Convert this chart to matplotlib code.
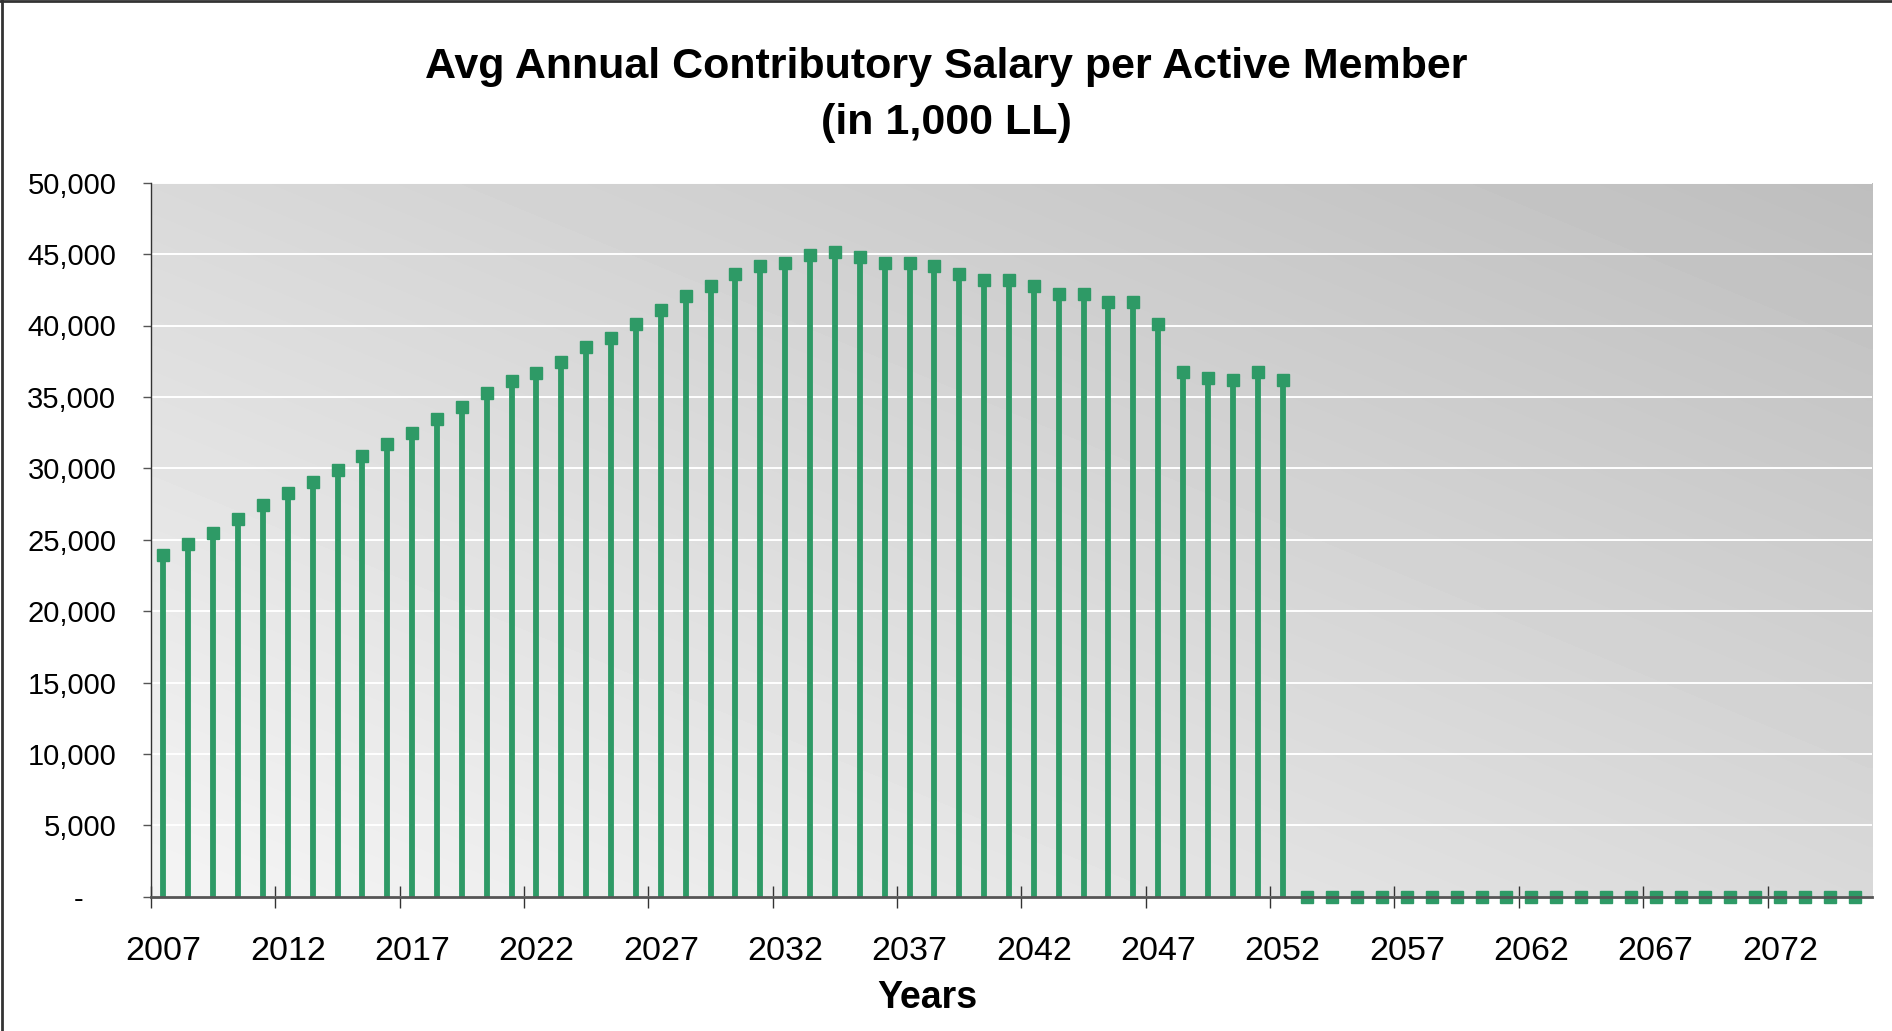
import numpy as np
import matplotlib
matplotlib.use('Agg')
import matplotlib.pyplot as plt
from matplotlib.lines import Line2D
from matplotlib.ticker import FuncFormatter, MultipleLocator

plt.rcParams['font.family'] = ['Liberation Sans', 'DejaVu Sans']

# avg annual contributory salary per active member, in 1,000 LL
years = list(range(2007, 2076))
salary_active = [
    23900, 24700, 25500, 26450, 27400, 28250, 29050, 29900, 30880, 31700,
    32480, 33450, 34300, 35300, 36080, 36700, 37450, 38500, 39120, 40100,
    41070, 42070, 42800, 43590, 44170, 44380, 44950, 45150, 44770, 44370,
    44370, 44170, 43600, 43190, 43190, 42800, 42220, 42220, 41620, 41620,
    40080, 36720, 36330, 36160, 36720, 36160,
]
salary = salary_active + [0] * (len(years) - len(salary_active))

title = 'Avg Annual Contributory Salary per Active Member\n(in 1,000 LL)'
green = '#2e9a66'

fig = plt.figure(figsize=(18.92, 10.31), dpi=100)
ax = fig.add_axes([151/1892, 1 - 896.7/1031, (1872 - 151)/1892, (896.7 - 182.7)/1031])

# diagonal grey gradient behind the plot
u = np.linspace(0, 1, 200)
U, V = np.meshgrid(u, u)
grad = (244 - 27*U - 27*V) / 255.0
ax.imshow(grad, extent=[0, 1, 0, 1], transform=ax.transAxes, origin='lower',
          cmap='gray', vmin=0, vmax=1, aspect='auto', zorder=0, interpolation='bilinear')

ax.vlines(years, 0, salary, color=green, lw=4.2, zorder=3)
ax.plot(years, salary, 's', color=green, ms=8.5, zorder=4, clip_on=False)

ax.set_xlim(2006.5, 2075.7)
ax.set_ylim(0, 50000)

ax.yaxis.set_major_locator(MultipleLocator(5000))
ax.yaxis.set_major_formatter(FuncFormatter(lambda v, p: '-    ' if v == 0 else f'{int(v):,}'))
ax.grid(axis='y', color='white', lw=1.4, zorder=1)
ax.set_axisbelow(True)

ax.set_xticks(years[::5])
ax.set_xticks([y - 0.5 for y in years[::5]], minor=True)
ax.tick_params(axis='x', which='major', length=0, pad=28, labelsize=24.5)
ax.tick_params(axis='x', which='minor', direction='inout', length=16, width=1, color='#333333')
ax.tick_params(axis='y', length=6, width=1, color='#555555', pad=19, labelsize=21)

for s in ['top', 'right']:
    ax.spines[s].set_visible(False)
ax.spines['left'].set_color('#333333')
ax.spines['left'].set_linewidth(1)
ax.spines['bottom'].set_color('#555555')
ax.spines['bottom'].set_linewidth(2)
ax.spines['bottom'].set_zorder(5)

fig.text(0.5, 1 - 95/1031, title, ha='center', va='center', fontsize=31,
         fontweight='bold', linespacing=1.52)
fig.text(927/1892, 1 - 998/1031, 'Years', ha='center', va='center', fontsize=27,
         fontweight='bold')

# frame around the chart (left and top edge visible)
fig.add_artist(Line2D([0.001, 0.001], [0, 1], color='#333333', lw=2, transform=fig.transFigure))
fig.add_artist(Line2D([0, 1], [0.999, 0.999], color='#333333', lw=2, transform=fig.transFigure))

fig.savefig('out.png', dpi=100)
